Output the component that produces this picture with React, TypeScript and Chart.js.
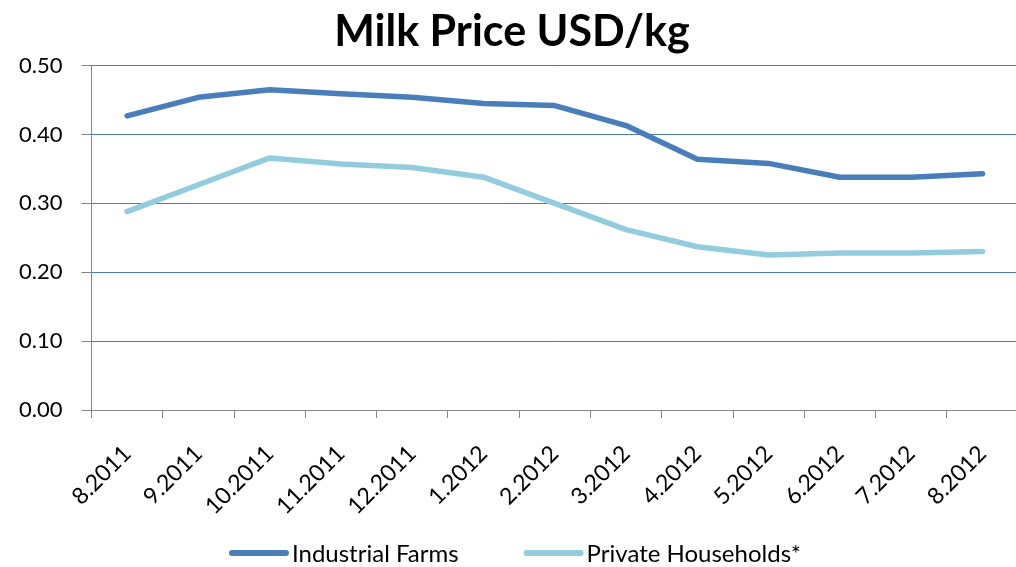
import React, { useEffect, useRef } from "react";
import { Chart, registerables } from "chart.js";

Chart.register(...registerables);

const categories = ["8.2011", "9.2011", "10.2011", "11.2011", "12.2011", "1.2012", "2.2012", "3.2012", "4.2012", "5.2012", "6.2012", "7.2012", "8.2012"];
const industrialFarms = [0.427, 0.454, 0.465, 0.459, 0.454, 0.445, 0.442, 0.413, 0.364, 0.358, 0.338, 0.338, 0.343];
const privateHouseholds = [0.288, 0.327, 0.366, 0.357, 0.352, 0.338, 0.300, 0.262, 0.237, 0.225, 0.228, 0.228, 0.230];
const titleText = "Milk Price USD/kg";
const seriesNames = ["Industrial Farms", "Private Households*"];
const seriesColors = ["#4A7EBB", "#93CDDD"];

const FONT = "Lato, 'Liberation Sans', sans-serif";

const bottomLegend = {
  id: "bottomLegend",
  afterDraw(chart: any) {
    const ctx = chart.ctx as CanvasRenderingContext2D;
    const ds = chart.data.datasets;
    const lineW = 60;
    const gapText = 3;
    const gapItems = 65;
    const y = 553;
    ctx.save();
    ctx.font = `24px ${FONT}`;
    const widths = ds.map((d: any) => lineW + gapText + ctx.measureText(d.label).width);
    const total = widths.reduce((a: number, b: number) => a + b, 0) + gapItems * (ds.length - 1);
    let x = 515 - total / 2;
    ds.forEach((d: any, i: number) => {
      ctx.strokeStyle = d.borderColor;
      ctx.lineWidth = 6;
      ctx.lineCap = "round";
      ctx.beginPath();
      ctx.moveTo(x + 3, y);
      ctx.lineTo(x + lineW - 3, y);
      ctx.stroke();
      ctx.fillStyle = "#000";
      ctx.textAlign = "left";
      ctx.textBaseline = "middle";
      ctx.fillText(d.label, x + lineW + gapText, y + 1);
      x += widths[i] + gapItems;
    });
    ctx.restore();
  },
};

export default function App() {
  const ref = useRef<HTMLCanvasElement>(null);
  useEffect(() => {
    document.body.style.margin = "0";
    document.body.style.overflow = "hidden";
    const ctx = ref.current!;
    const chart = new Chart(ctx, {
      type: "line",
      data: {
        labels: categories,
        datasets: [
          {
            label: seriesNames[0],
            data: industrialFarms,
            borderColor: seriesColors[0],
            backgroundColor: seriesColors[0],
            borderWidth: 5.5,
            pointRadius: 0,
            tension: 0,
            borderCapStyle: "round",
            borderJoinStyle: "round",
          },
          {
            label: seriesNames[1],
            data: privateHouseholds,
            borderColor: seriesColors[1],
            backgroundColor: seriesColors[1],
            borderWidth: 5.5,
            pointRadius: 0,
            tension: 0,
            borderCapStyle: "round",
            borderJoinStyle: "round",
          },
        ],
      },
      options: {
        animation: false,
        responsive: false,
        maintainAspectRatio: false,
        layout: { padding: { left: 0, right: 0, top: 6, bottom: 25 } },
        plugins: {
          title: {
            display: true,
            text: titleText,
            color: "#000",
            font: { family: FONT, size: 43, weight: "bold" },
            padding: { top: 0, bottom: 8 },
          },
          legend: { display: false },
          tooltip: { enabled: false },
        },
        scales: {
          x: {
            offset: true,
            grid: {
              offset: true,
              drawOnChartArea: false,
              drawTicks: true,
              tickLength: 8,
              tickColor: "#868686",
              color: "#868686",
            },
            border: { color: "#868686", width: 1 },
            ticks: {
              color: "#000",
              font: { family: FONT, size: 23 },
              maxRotation: 45,
              minRotation: 45,
              padding: 22,
            },
          },
          y: {
            min: 0,
            max: 0.5,
            grid: {
              color: "#4A7EBB",
              lineWidth: 1,
              tickLength: 10,
              tickColor: "#868686",
            },
            border: { color: "#868686", width: 1 },
            ticks: {
              stepSize: 0.1,
              color: "#000",
              font: { family: FONT, size: 22 },
              padding: 19,
              callback: (v: any) => Number(v).toFixed(2),
            },
          },
        },
      },
      plugins: [bottomLegend],
    });
    return () => chart.destroy();
  }, []);
  return <canvas ref={ref} width={1024} height={567} style={{ display: "block" }} />;
}
